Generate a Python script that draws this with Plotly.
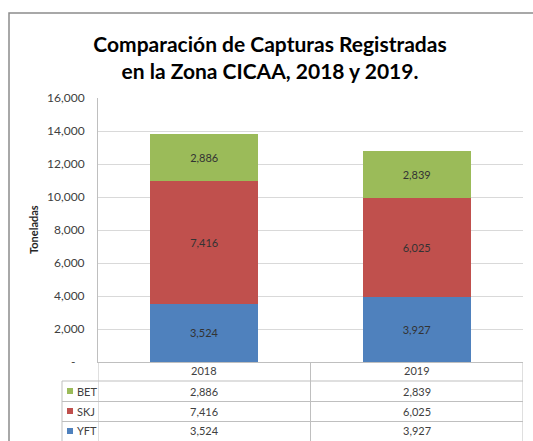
import plotly.graph_objects as go

# ---------------- data ----------------
years = ["2018", "2019"]
yft = [3524, 3927]
skj = [7416, 6025]
bet = [2886, 2839]
series_names = ["YFT", "SKJ", "BET"]
series_colors = ["#4F81BD", "#C0504D", "#9BBB59"]
y_tick_vals = [0, 2000, 4000, 6000, 8000, 10000, 12000, 14000, 16000]
title_text = "Comparación de Capturas Registradas<br>en la Zona CICAA, 2018 y 2019."
y_title = "Toneladas"

series_values = [yft, skj, bet]

# ---------------- geometry helpers ----------------
W, H = 533, 441
L, R, T, B = 98, 10, 98, 79
PW, PH = W - L - R, H - T - B


def px_x(p):
    return (p - L) / PW


def px_y(p):
    return (H - B - p) / PH


FONT = "Lato, 'Open Sans', sans-serif"
TXT = "#404040"
GRID = "#D9D9D9"
LINE = "#BFBFBF"

fig = go.Figure()
for name, vals, col in zip(series_names, series_values, series_colors):
    fig.add_trace(go.Bar(
        x=list(range(len(years))), y=vals, name=name, marker=dict(color=col, line=dict(width=0)),
        texttemplate="%{y:,}", textposition="inside", insidetextanchor="middle",
        textangle=0, textfont=dict(family=FONT, size=11, color="#333333"),
        showlegend=False, hoverinfo="skip",
    ))

tick_text = ["-\u00a0\u00a0\u00a0" if v == 0 else f"{v:,}" for v in y_tick_vals]

shapes = []
annotations = []

# outer chart border
shapes.append(dict(type="rect", xref="paper", yref="paper",
                   x0=px_x(9), x1=px_x(560), y0=px_y(13), y1=px_y(470),
                   line=dict(color="#8C8C8C", width=1.5), fillcolor="rgba(0,0,0,0)", layer="below"))

# data table
row_bottom = 441
col_x = [-0.5, 0.5, 1.5]
for yy in [381, 401.5, 421.5]:
    shapes.append(dict(type="line", xref="paper", yref="paper",
                       x0=px_x(62), x1=1, y0=px_y(yy), y1=px_y(yy),
                       line=dict(color=LINE, width=1)))
for cx in col_x:
    shapes.append(dict(type="line", xref="x", yref="paper",
                       x0=cx, x1=cx, y0=0, y1=px_y(row_bottom + 5),
                       line=dict(color=LINE, width=1)))
shapes.append(dict(type="line", xref="paper", yref="paper",
                   x0=px_x(62), x1=px_x(62), y0=px_y(381), y1=px_y(row_bottom + 5),
                   line=dict(color=LINE, width=1)))

# header row: years
for i, yr in enumerate(years):
    annotations.append(dict(x=i, xref="x", y=px_y(370.5), yref="paper", text=yr,
                            xanchor="center", yanchor="middle",
                            showarrow=False, font=dict(family=FONT, size=11, color=TXT)))

# table rows, top to bottom: reversed series order
row_centers = [391, 411, 431]
rows = list(zip(series_names, series_values, series_colors))[::-1]
for (name, vals, col), yc in zip(rows, row_centers):
    shapes.append(dict(type="rect", xref="paper", yref="paper",
                       x0=px_x(67), x1=px_x(73), y0=px_y(yc - 3), y1=px_y(yc + 3),
                       fillcolor=col, line=dict(width=0)))
    annotations.append(dict(x=px_x(75), xref="paper", y=px_y(yc), yref="paper", text=name,
                            xanchor="left", yanchor="middle", showarrow=False,
                            font=dict(family=FONT, size=11, color=TXT)))
    for i, v in enumerate(vals):
        annotations.append(dict(x=i, xref="x", y=px_y(yc), yref="paper", text=f"{v:,}",
                                xanchor="center", yanchor="middle",
                                showarrow=False, font=dict(family=FONT, size=11, color=TXT)))

# y axis title
annotations.append(dict(x=px_x(33), xref="paper", y=px_y(230), yref="paper", text=f"<b>{y_title}</b>",
                        xanchor="center", yanchor="middle",
                        textangle=-90, showarrow=False,
                        font=dict(family=FONT, size=11, color="#262626")))

fig.update_layout(
    width=W, height=H,
    margin=dict(l=L, r=R, t=T, b=B, pad=0),
    paper_bgcolor="white", plot_bgcolor="white",
    barmode="stack", bargap=0.49,
    title=dict(text=f"<b>{title_text}</b>", x=270 / W, xanchor="center",
               y=1 - 52 / H, yanchor="middle",
               font=dict(family=FONT, size=21, color="#000000")),
    xaxis=dict(range=[-0.5, 1.5], showticklabels=False, ticks="",
               showline=True, linecolor=LINE, linewidth=1, showgrid=False, zeroline=False),
    yaxis=dict(range=[0, 16000], tickvals=y_tick_vals, ticktext=tick_text, ticks="",
               ticklabelstandoff=10,
               tickfont=dict(family=FONT, size=12, color=TXT),
               showgrid=True, gridcolor=GRID, gridwidth=1, zeroline=False,
               showline=True, linecolor=LINE, linewidth=1),
    shapes=shapes, annotations=annotations,
    font=dict(family=FONT),
    hovermode=False,
)

fig.write_html("out.html", config={"displayModeBar": False},
               post_script="document.body.style.margin='0';document.body.style.overflow='hidden';")
